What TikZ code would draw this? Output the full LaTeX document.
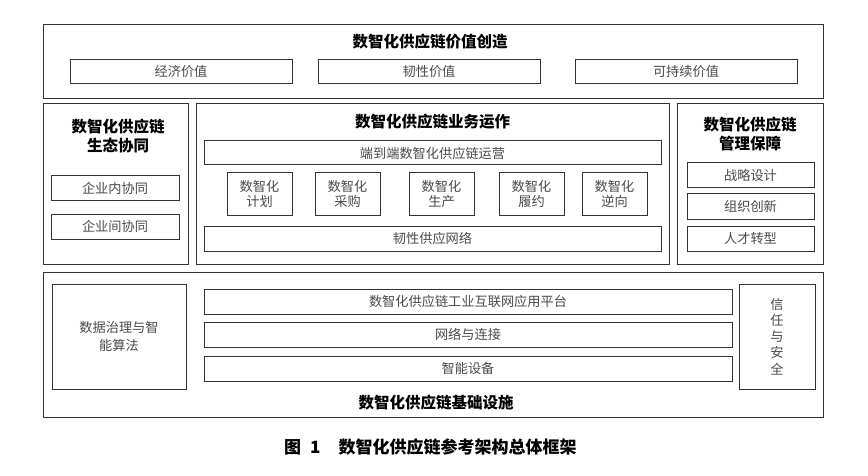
\documentclass[tikz,border=0pt]{standalone}
\usepackage{fontspec}
\setmainfont{Noto Sans CJK SC}
\definecolor{linec}{HTML}{333333}
\definecolor{txtc}{HTML}{4A4A4A}
\tikzset{
  box/.style={draw=linec, line width=1pt, fill=white, inner sep=0pt, align=center,
    text=txtc, font=\fontsize{13.2}{15}\selectfont},
  outer/.style={draw=linec, line width=1pt, inner sep=0pt},
  ttl/.style={inner sep=0pt, align=center, text=black, font=\fontsize{15.5}{18.5}\selectfont\bfseries},
}
\begin{document}
\begin{tikzpicture}[x=1pt,y=-1pt]
\useasboundingbox[fill=white] (0,0) rectangle (868,476);
% top layer
\node[outer, minimum width=780pt, minimum height=74pt] (top) at (433,62) {};
\node[ttl] (toptitle) at (430,42) {数智化供应链价值创造};
\node[box, minimum width=222pt, minimum height=24pt] (v1) at (181,72) {经济价值};
\node[box, minimum width=222pt, minimum height=24pt] (v2) at (429,72) {韧性价值};
\node[box, minimum width=222pt, minimum height=24pt] (v3) at (686,72) {可持续价值};
% middle left
\node[outer, minimum width=145pt, minimum height=160pt] (left) at (115.5,184) {};
\node[ttl] (lefttitle) at (118,136) {数智化供应链\\生态协同};
\node[box, minimum width=128pt, minimum height=25pt] (l1) at (115,188.5) {企业内协同};
\node[box, minimum width=128pt, minimum height=25pt] (l2) at (115,226.5) {企业间协同};
% middle center
\node[outer, minimum width=473pt, minimum height=160pt] (mid) at (432.5,184) {};
\node[ttl] (midtitle) at (432.5,122) {数智化供应链业务运作};
\node[box, minimum width=457pt, minimum height=24pt] (e2e) at (432.5,153) {端到端数智化供应链运营};
\node[box, minimum width=65pt, minimum height=42pt] (m1) at (259.5,194) {数智化\\计划};
\node[box, minimum width=65pt, minimum height=42pt] (m2) at (347.5,194) {数智化\\采购};
\node[box, minimum width=65pt, minimum height=42pt] (m3) at (441.5,194) {数智化\\生产};
\node[box, minimum width=65pt, minimum height=42pt] (m4) at (531.5,194) {数智化\\履约};
\node[box, minimum width=65pt, minimum height=42pt] (m5) at (614.5,194) {数智化\\逆向};
\node[box, minimum width=457pt, minimum height=25pt] (net) at (432.5,238.5) {韧性供应网络};
% middle right
\node[outer, minimum width=146pt, minimum height=160pt] (right) at (750,184) {};
\node[ttl] (righttitle) at (750,134) {数智化供应链\\管理保障};
\node[box, minimum width=127pt, minimum height=25pt] (r1) at (750.5,175.5) {战略设计};
\node[box, minimum width=127pt, minimum height=25pt] (r2) at (750.5,206.5) {组织创新};
\node[box, minimum width=127pt, minimum height=25pt] (r3) at (750.5,238.5) {人才转型};
% bottom layer
\node[outer, minimum width=780pt, minimum height=145pt] (bot) at (433,344.5) {};
\node[box, minimum width=134pt, minimum height=105pt, font=\fontsize{13.2}{18}\selectfont] (data) at (119,336.5) {数据治理与智\\能算法};
\node[box, minimum width=528pt, minimum height=25pt] (b1) at (468,301.5) {数智化供应链工业互联网应用平台};
\node[box, minimum width=528pt, minimum height=25pt] (b2) at (468,334.5) {网络与连接};
\node[box, minimum width=528pt, minimum height=25pt] (b3) at (468,368.5) {智能设备};
\node[box, minimum width=76pt, minimum height=105pt, font=\fontsize{13.2}{16.25}\selectfont] (trust) at (777,336.5) {信\\任\\与\\安\\全};
\node[ttl] (bottitle) at (436,403) {数智化供应链基础设施};
% caption
\node[anchor=west, inner sep=0pt, font=\fontsize{17}{20}\selectfont\bfseries] (cap) at (284,447) {图\hspace{9pt}1\hspace{18pt}数智化供应链参考架构总体框架};
\end{tikzpicture}
\end{document}
